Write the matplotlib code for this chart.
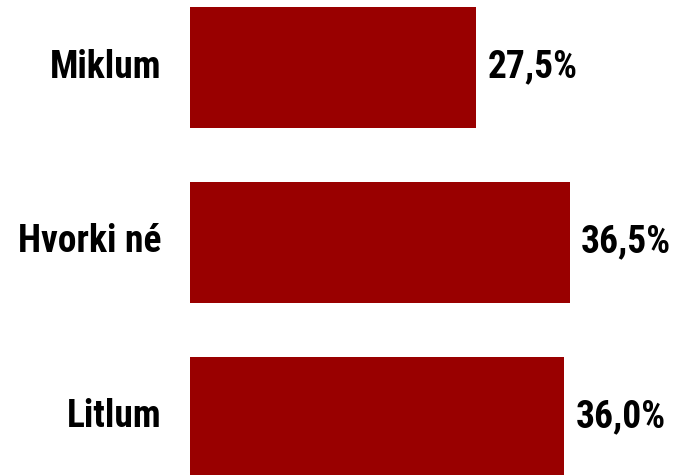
import matplotlib
matplotlib.use("Agg")
import matplotlib.pyplot as plt

categories = ["Miklum", "Hvorki né", "Litlum"]
values = [27.5, 36.5, 36.0]
value_labels = ["27,5%", "36,5%", "36,0%"]

fam = ["Roboto Condensed", "Liberation Sans", "DejaVu Sans"]

fig = plt.figure(figsize=(6.78, 4.75), dpi=100)
ax = fig.add_axes([0, 0, 1, 1])
ypos = [2, 1, 0]
ax.barh(ypos, values, height=0.691, color="#990000")
for y, v, lab, cat in zip(ypos, values, value_labels, categories):
    ax.text(v + 1.1, y - 0.057, lab, ha="left", va="baseline", fontsize=27,
            fontweight="bold", family=fam, color="black")
    ax.text(-2.75, y - 0.057, cat, ha="right", va="baseline", fontsize=27,
            fontweight="bold", family=fam, color="black")
ax.set_xlim(-18.27, 46.92)
ax.set_ylim(-0.3286, 2.386)
ax.axis("off")
fig.savefig("out.png", dpi=100)
